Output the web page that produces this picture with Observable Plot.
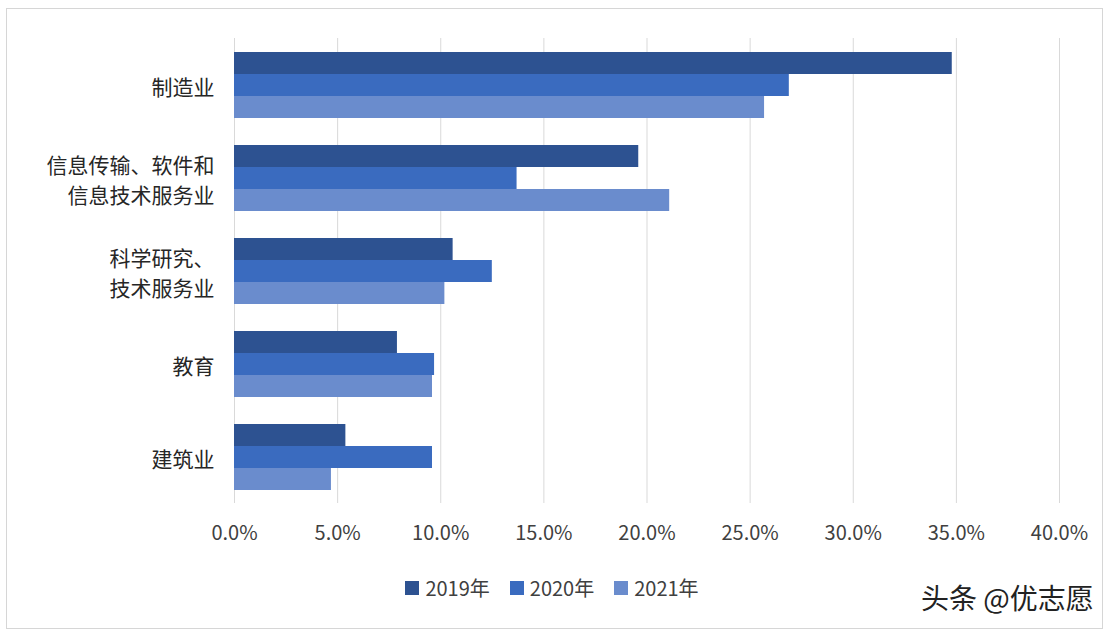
<!DOCTYPE html>
<html>
<head>
<meta charset="utf-8">
<script src="https://cdn.jsdelivr.net/npm/d3@7"></script>
<script src="https://cdn.jsdelivr.net/npm/@observablehq/plot@0.6"></script>
<style>
  body { margin: 0; background: #fff; }
  #wrap { position: relative; width: 1110px; height: 634px; background: #fff; overflow: hidden;
          font-family: "Noto Sans CJK SC", "Noto Sans", sans-serif; }
  #frame { position: absolute; left: 6px; top: 8px; width: 1095px; height: 619px; border: 1px solid #d6d6d6; }
  #chart { position: absolute; left: 0; top: 0; }
  #legend { position: absolute; left: 0; top: 573px; width: 1104px; display: flex; justify-content: center;
            gap: 20px; font-size: 20px; color: #404040; }
  #legend .item { display: flex; align-items: center; gap: 6px; }
  #legend .sw { width: 14px; height: 14px; display: inline-block; }
  #credit { position: absolute; left: 921px; top: 577px; font-size: 28px; color: #222; white-space: nowrap; }
</style>
</head>
<body>
<div id="wrap">
  <div id="frame"></div>
  <div id="chart"></div>
  <div id="legend"></div>
  <div id="credit">头条 @优志愿</div>
</div>
<script>
const categories = ["制造业", "信息传输、软件和信息技术服务业", "科学研究、技术服务业", "教育", "建筑业"];
const categoryLabels = ["制造业", "信息传输、软件和\n信息技术服务业", "科学研究、\n技术服务业", "教育", "建筑业"];
const years = ["2019年", "2020年", "2021年"];
const values2019 = [34.8, 19.6, 10.6, 7.9, 5.4];
const values2020 = [26.9, 13.7, 12.5, 9.7, 9.6];
const values2021 = [25.7, 21.1, 10.2, 9.6, 4.7];
const colors = ["#2d5291", "#3a6bbf", "#6a8ccd"];
const xTicks = [0, 0.05, 0.10, 0.15, 0.20, 0.25, 0.30, 0.35, 0.40];

const series = [values2019, values2020, values2021];
const data = [];
categories.forEach((c, i) => {
  years.forEach((y, j) => {
    data.push({category: c, year: y, value: series[j][i] / 100});
  });
});
const labelOf = new Map(categories.map((c, i) => [c, categoryLabels[i]]));

const chart = Plot.plot({
  width: 1110,
  height: 560,
  marginLeft: 234,
  marginRight: 51,
  marginTop: 37,
  marginBottom: 57,
  style: {fontFamily: '"Noto Sans CJK SC", "Noto Sans", sans-serif', color: "#404040", background: "transparent"},
  x: {domain: [0, 0.4]},
  y: {domain: years, axis: null, paddingInner: 0, paddingOuter: 0.58},
  fy: {domain: categories, padding: 0},
  color: {domain: years, range: colors},
  facet: {data: data, y: "category"},
  marks: [
    Plot.gridX(xTicks, {stroke: "#d9d9d9", strokeOpacity: 1, strokeWidth: 1}),
    Plot.barX(data, {x: "value", y: "year", fy: "category", fill: "year", inset: 0}),
    Plot.axisX(xTicks, {anchor: "bottom", tickSize: 0, tickPadding: 22, fontSize: 20, tickFormat: d3.format(".1%"), label: null, fill: "#404040"}),
    Plot.axisFy({anchor: "left", tickSize: 0, tickPadding: 20, fontSize: 21, lineHeight: 1.45, tickFormat: d => labelOf.get(d), label: null, fill: "#262626"})
  ]
});
document.getElementById("chart").appendChild(chart);

const legend = document.getElementById("legend");
years.forEach((y, j) => {
  const it = document.createElement("div");
  it.className = "item";
  const sw = document.createElement("span");
  sw.className = "sw";
  sw.style.background = colors[j];
  const t = document.createElement("span");
  t.textContent = y;
  it.appendChild(sw);
  it.appendChild(t);
  legend.appendChild(it);
});
</script>
</body>
</html>
